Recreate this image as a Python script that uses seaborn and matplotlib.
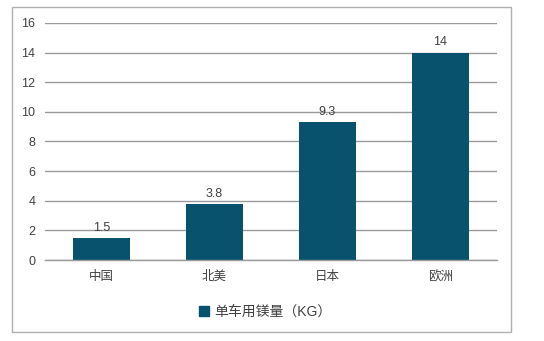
import matplotlib
matplotlib.use("Agg")
import matplotlib.pyplot as plt
import seaborn as sns
import pandas as pd
from matplotlib.patches import Rectangle
from matplotlib.lines import Line2D

categories = ["中国", "北美", "日本", "欧洲"]
values = [1.5, 3.8, 9.3, 14]
value_labels = ["1.5", "3.8", "9.3", "14"]
series_name = "单车用镁量（KG）"
yticks = [0, 2, 4, 6, 8, 10, 12, 14, 16]

sns.set_theme(style="white")
plt.rcParams["font.family"] = ["Liberation Sans", "Noto Sans CJK SC", "DejaVu Sans"]

bar_color = "#08526d"
df = pd.DataFrame({"cat": categories, "val": values})

fig = plt.figure(figsize=(5.44, 3.41), dpi=100)
ax = fig.add_axes([0.0827, 0.2375, 0.9136 - 0.0827, 0.9326 - 0.2375])
sns.barplot(data=df, x="cat", y="val", color=bar_color, width=0.5, saturation=1,
            linewidth=0, ax=ax)

ax.set_ylim(0, 16)
ax.set_yticks(yticks)
ax.set_xlim(-0.5, len(categories) - 0.5)
ax.yaxis.grid(True, color="#9a9a9a", linewidth=1.0)
ax.set_axisbelow(True)
for s in ["top", "right", "left"]:
    ax.spines[s].set_visible(False)
ax.spines["bottom"].set_color("#9a9a9a")
ax.spines["bottom"].set_linewidth(1.0)
ax.tick_params(axis="both", length=0, labelsize=9, colors="#404040")
ax.tick_params(axis="y", pad=7)
ax.tick_params(axis="x", pad=8)
ax.set_xlabel("")
ax.set_ylabel("")

for p, lab in zip(ax.patches, value_labels):
    ax.annotate(lab, (p.get_x() + p.get_width() / 2, p.get_height()),
                xytext=(0, 3), textcoords="offset points",
                ha="center", va="bottom", fontsize=9, color="#404040")

handle = Line2D([], [], marker="s", linestyle="none", markersize=7,
                markerfacecolor=bar_color, markeredgecolor=bar_color)
fig.legend([handle], [series_name], loc="center", bbox_to_anchor=(265 / 544, 1 - 312 / 341),
           frameon=False, fontsize=10, handletextpad=0.35, handlelength=0.8,
           labelcolor="#404040")

fig.patches.append(Rectangle((12 / 544, 1 - 332 / 341), (511 - 12) / 544, (332 - 7) / 341,
                             transform=fig.transFigure, fill=False,
                             edgecolor="#b0b0b0", linewidth=1.0))

fig.savefig("out.png", dpi=100, facecolor="white")
